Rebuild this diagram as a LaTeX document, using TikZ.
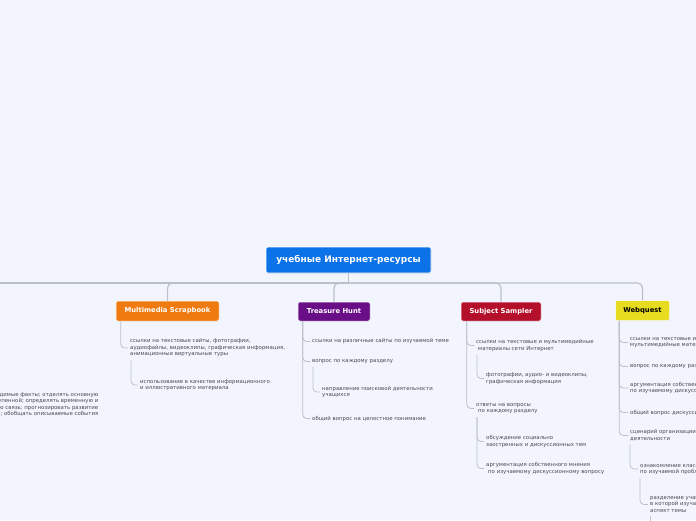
\documentclass[tikz,border=0pt]{standalone}
\usepackage{fontspec}
\setmainfont{DejaVu Sans}
\usetikzlibrary{shadows}
\definecolor{bg}{HTML}{F2F5FD}
\definecolor{rootblue}{HTML}{0B72E7}
\definecolor{orangeb}{HTML}{EF7B10}
\definecolor{purpleb}{HTML}{6A0E88}
\definecolor{redb}{HTML}{B4102B}
\definecolor{yellowb}{HTML}{E7DC1F}
\definecolor{connc}{HTML}{BCC0C8}
\definecolor{txt}{HTML}{4A4A55}
\tikzset{
  rootbox/.style={fill=rootblue, draw=white, line width=0.6pt, rounded corners=2pt, text=white,
    font=\bfseries\fontsize{9}{10}\selectfont, minimum width=165pt, minimum height=26pt, inner sep=0pt,
    drop shadow={shadow xshift=0.4pt, shadow yshift=-0.7pt, opacity=0.25}},
  branchbox/.style={draw=white, line width=0.5pt, rounded corners=2pt, text=white,
    font=\bfseries\fontsize{6.8}{7.5}\selectfont, minimum height=19pt, inner sep=0pt,
    drop shadow={shadow xshift=0.4pt, shadow yshift=-0.7pt, opacity=0.25}},
  leaf/.style={font=\fontsize{5.4}{6.5}\selectfont, text=txt, align=left, anchor=west, inner sep=0pt},
  hubline/.style={draw=connc, line width=1.2pt, rounded corners=5pt},
  cline/.style={draw=connc, line width=0.8pt, rounded corners=4pt},
}
\begin{document}
\begin{tikzpicture}[x=1pt,y=-1pt]
\useasboundingbox (0,0) rectangle (696,520);
\fill[bg] (0,0) rectangle (696,520);
\clip (0,0) rectangle (696,520);

% root and hub
\coordinate (hub) at (348.5,283);
\coordinate (offl) at (-10,283);
\coordinate (offb) at (650,530);
\draw[hubline] (348.5,272) -- (hub);
\draw[hubline] (hub) -- (offl);
\draw[hubline] (hub) -| (167.5,301);
\draw[hubline] (hub) -| (334,302);
\draw[hubline] (hub) -| (501,302);
\draw[hubline] (hub) -| (642.5,301);

\node[rootbox] (root) at (348.5,260) {учебные Интернет-ресурсы};

% branches
\node[branchbox, fill=orangeb, minimum width=103pt, minimum height=20pt] (mm) at (167.5,311) {Multimedia Scrapbook};
\node[branchbox, fill=purpleb, minimum width=72pt] (th) at (334,311.5) {Treasure Hunt};
\node[branchbox, fill=redb, minimum width=80pt] (ss) at (501,311.5) {Subject Sampler};
\node[branchbox, fill=yellowb, text=black, minimum width=54pt, minimum height=20pt] (wq) at (642.5,310.5) {Webquest};

% left cut-off text
\node[leaf, anchor=east, align=right] (lt) at (98.5,404.5) {выделять необходимые факты; отделять основную\\информацию от второстепенной; определять временную и\\причинно-следственную связь; прогнозировать развитие\\событий; обобщать описываемые события};

% Multimedia Scrapbook
\node[leaf] (mm1) at (130,348) {ссылки на текстовые сайты, фотографии,\\аудиофайлы, видеоклипы, графическая информация,\\анимационные виртуальные туры};
\node[leaf] (mm1a) at (140,385) {использование в качестве информационного\\и иллюстративного материала};
\draw[cline] ([xshift=5pt]mm.south west) |- ([xshift=-2pt]mm1.west);
\draw[cline] ([xshift=1pt,yshift=-3pt]mm1.south west) |- ([xshift=-2pt]mm1a.west);

% Treasure Hunt
\node[leaf] (th1) at (312,341.5) {ссылки на различные сайты по изучаемой теме};
\node[leaf] (th2) at (312,361.5) {вопрос по каждому разделу};
\node[leaf] (th2a) at (322,392) {направление поисковой деятельности\\учащихся};
\node[leaf] (th3) at (312,418.5) {общий вопрос на целостное понимание};
\draw[cline] ([xshift=5pt]th.south west) |- ([xshift=-2pt]th1.west);
\draw[cline] ([xshift=5pt]th.south west) |- ([xshift=-2pt]th2.west);
\draw[cline] ([xshift=5pt]th.south west) |- ([xshift=-2pt]th3.west);
\draw[cline] ([xshift=1pt,yshift=-3pt]th2.south west) |- ([xshift=-2pt]th2a.west);

% Subject Sampler
\node[leaf] (ss1) at (476,345.5) {ссылки на текстовые и мультимедийные\\\hspace*{2pt}материалы сети Интернет};
\node[leaf] (ss1a) at (486,378.5) {фотографии, аудио- и видеоклипы,\\графическая информация};
\node[leaf] (ss2) at (476,408.5) {ответы на вопросы\\\hspace*{2pt}по каждому разделу};
\node[leaf] (ss2a) at (486,441.5) {обсуждение социально\\заостренных и дискуссионных тем};
\node[leaf] (ss2b) at (486,468.5) {аргументация собственного мнения\\\hspace*{2pt}по изучаемому дискуссионному вопросу};
\draw[cline] ([xshift=6pt]ss.south west) |- ([xshift=-2pt]ss1.west);
\draw[cline] ([xshift=6pt]ss.south west) |- ([xshift=-2pt]ss2.west);
\draw[cline] ([xshift=1pt,yshift=-3pt]ss1.south west) |- ([xshift=-2pt]ss1a.west);
\draw[cline] ([xshift=1pt,yshift=-3pt]ss2.south west) |- ([xshift=-2pt]ss2a.west);
\draw[cline] ([xshift=1pt,yshift=-3pt]ss2.south west) |- ([xshift=-2pt]ss2b.west);

% Webquest
\node[leaf] (wq1) at (630,342.5) {ссылки на текстовые и\\мультимедийные материалы};
\node[leaf] (wq2) at (630,366.5) {вопрос по каждому разделу};
\node[leaf] (wq3) at (630,388) {аргументация собственного мнения\\по изучаемому дискуссионному вопросу};
\node[leaf] (wq4) at (630,412.5) {общий вопрос дискуссионного характера};
\node[leaf] (wq5) at (630,435.5) {сценарий организации поисковой\\деятельности};
\node[leaf] (wq5a) at (640,469) {ознакомление класса с информацией\\по изучаемой проблеме};
\node[leaf] (wq5a1) at (650,504.5) {разделение учащихся на группы,\\в которой изучается определенный\\аспект темы};
\draw[cline] ([xshift=4pt]wq.south west) |- ([xshift=-2pt]wq1.west);
\draw[cline] ([xshift=4pt]wq.south west) |- ([xshift=-2pt]wq2.west);
\draw[cline] ([xshift=4pt]wq.south west) |- ([xshift=-2pt]wq3.west);
\draw[cline] ([xshift=4pt]wq.south west) |- ([xshift=-2pt]wq4.west);
\draw[cline] ([xshift=4pt]wq.south west) |- ([xshift=-2pt]wq5.west);
\draw[cline] ([xshift=0pt,yshift=-3pt]wq5.south west) |- ([xshift=-2pt]wq5a.west);
\draw[cline] ([xshift=0pt,yshift=-3pt]wq5a.south west) |- ([xshift=-2pt]wq5a1.west);
\draw[cline] ([xshift=0pt,yshift=-3pt]wq5a1.south west) -- (wq5a1.south west |- offb);
\end{tikzpicture}
\end{document}
